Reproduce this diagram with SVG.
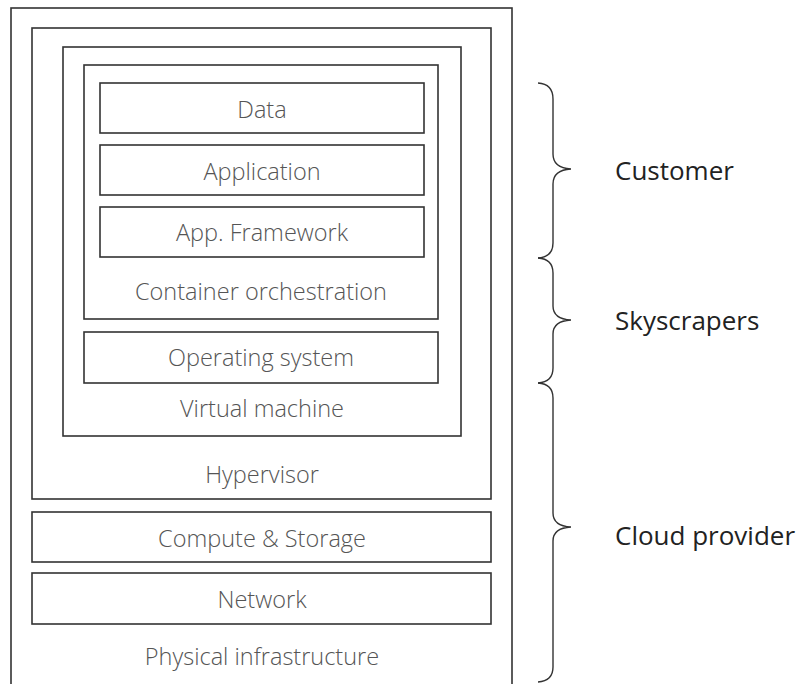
<svg xmlns="http://www.w3.org/2000/svg" width="806" height="684" viewBox="0 0 806 684">
<style>
.box{fill:none;stroke:#333;stroke-width:1.6}
.t{font-family:"Open Sans","Liberation Sans",sans-serif;font-weight:300;font-size:23.5px;fill:#555;text-anchor:middle}
.l{font-family:"Open Sans","Liberation Sans",sans-serif;font-size:26px;fill:#222}
.br{fill:none;stroke:#333;stroke-width:1.4}
</style>
<rect width="806" height="684" fill="#fff"/>
<g id="physical"><rect class="box" x="11" y="8" width="501" height="690"/><text class="t" x="262" y="665">Physical infrastructure</text></g>
<g id="hypervisor"><rect class="box" x="32" y="28" width="459" height="471"/><text class="t" x="262" y="483">Hypervisor</text></g>
<g id="vm"><rect class="box" x="63" y="47" width="398" height="389"/><text class="t" x="262" y="417">Virtual machine</text></g>
<g id="container"><rect class="box" x="84" y="65" width="354" height="254"/><text class="t" x="261" y="300">Container orchestration</text></g>
<g id="data"><rect class="box" x="100" y="83" width="324" height="50"/><text class="t" x="262" y="117.5">Data</text></g>
<g id="application"><rect class="box" x="100" y="145" width="324" height="50"/><text class="t" x="262" y="179.5">Application</text></g>
<g id="framework"><rect class="box" x="100" y="207" width="324" height="50"/><text class="t" x="262" y="241">App. Framework</text></g>
<g id="os"><rect class="box" x="84" y="332" width="354" height="51"/><text class="t" x="261" y="366">Operating system</text></g>
<g id="compute"><rect class="box" x="32" y="512" width="459" height="50"/><text class="t" x="262" y="547">Compute &amp; Storage</text></g>
<g id="network"><rect class="box" x="32" y="573" width="459" height="51"/><text class="t" x="262" y="608">Network</text></g>
<g id="connectors">
<path class="br" d="M538,83 Q553,84 553,99 L553,154 Q553,168 571,169 Q553,170 553,184 L553,243 Q553,257 538,258"/>
<path class="br" d="M538,258 Q553,259 553,273 L553,306 Q553,319 571,320 Q553,321 553,334 L553,368 Q553,382 538,383"/>
<path class="br" d="M538,383 Q553,384 553,398 L553,513 Q553,526 571,527 Q553,528 553,541 L553,667 Q553,681 538,682"/>
</g>
<g id="customer"><text class="l" x="615" y="180">Customer</text></g>
<g id="skyscrapers"><text class="l" x="615" y="330">Skyscrapers</text></g>
<g id="cloud"><text class="l" x="615" y="545">Cloud provider</text></g>
</svg>
